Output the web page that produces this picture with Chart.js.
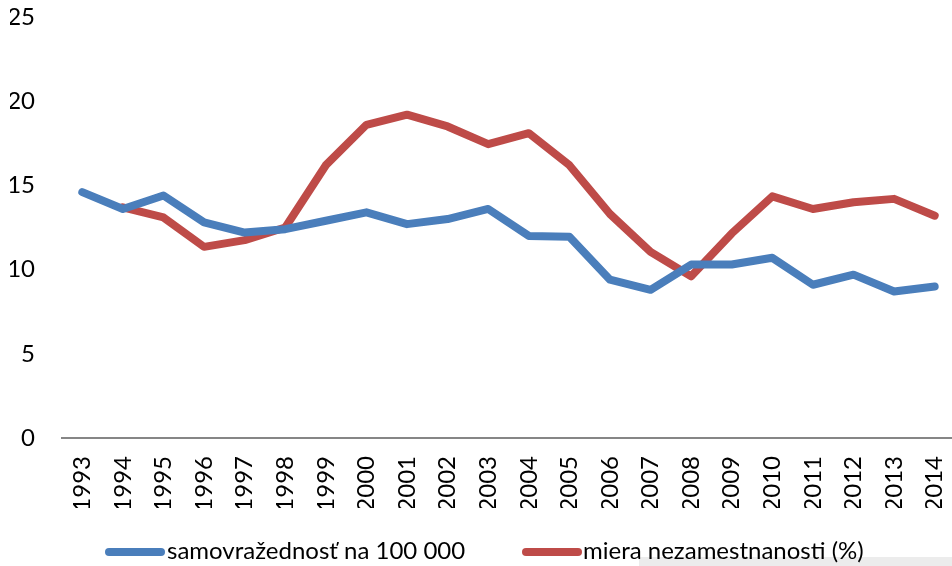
<!DOCTYPE html>
<html>
<head>
<meta charset="utf-8">
<script src="https://cdn.jsdelivr.net/npm/chart.js@4"></script>
<style>
  html, body { margin: 0; padding: 0; background: #fff; overflow: hidden; width: 952px; height: 566px; }
  #wrap { position: relative; width: 956px; height: 566px; }
  #strip { position: absolute; left: 639px; top: 557px; width: 320px; height: 10px; background: #ececec; z-index: 0; }
  #c { position: absolute; left: 0; top: 0; z-index: 1; }
</style>
</head>
<body>
<div id="wrap">
  <div id="strip"></div>
  <canvas id="c" width="956" height="566"></canvas>
</div>
<script>
const years = ['1993','1994','1995','1996','1997','1998','1999','2000','2001','2002','2003','2004','2005','2006','2007','2008','2009','2010','2011','2012','2013','2014'];
const suicideRate = [14.6, 13.6, 14.4, 12.8, 12.2, 12.4, 12.9, 13.4, 12.7, 13.0, 13.6, 12.0, 11.95, 9.4, 8.8, 10.3, 10.3, 10.7, 9.1, 9.7, 8.7, 9.0];
const unemployment = [null, 13.7, 13.1, 11.35, 11.75, 12.5, 16.2, 18.6, 19.2, 18.5, 17.45, 18.1, 16.2, 13.3, 11.05, 9.6, 12.15, 14.35, 13.6, 14.0, 14.2, 13.2];
const seriesNames = ['samovražednosť na 100 000', 'miera nezamestnanosti (%)'];
const yTicks = [0, 5, 10, 15, 20, 25];

const FONT = 'Lato, "Open Sans", sans-serif';

const legendPlugin = {
  id: 'customLegend',
  afterDraw(chart) {
    const ctx = chart.ctx;
    const items = [
      { x: 109, tx: 167, text: seriesNames[0], color: chart.data.datasets[0].borderColor },
      { x: 526, tx: 583, text: seriesNames[1], color: chart.data.datasets[1].borderColor }
    ];
    const y = 552;
    ctx.save();
    items.forEach(it => {
      ctx.strokeStyle = it.color;
      ctx.lineWidth = 8;
      ctx.lineCap = 'round';
      ctx.beginPath();
      ctx.moveTo(it.x, y);
      ctx.lineTo(it.x + 52, y);
      ctx.stroke();
      ctx.fillStyle = '#000';
      ctx.font = '24px ' + FONT;
      ctx.textBaseline = 'middle';
      ctx.textAlign = 'left';
      ctx.fillText(it.text, it.tx, y - 1);
    });
    ctx.restore();
  }
};

new Chart(document.getElementById('c'), {
  type: 'line',
  data: {
    labels: years,
    datasets: [
      { label: seriesNames[0], data: suicideRate, borderColor: '#4A7EBB', backgroundColor: '#4A7EBB', borderWidth: 8, pointRadius: 0, tension: 0, borderCapStyle: 'round', borderJoinStyle: 'round', spanGaps: false },
      { label: seriesNames[1], data: unemployment, borderColor: '#BE4B48', backgroundColor: '#BE4B48', borderWidth: 8, pointRadius: 0, tension: 0, borderCapStyle: 'round', borderJoinStyle: 'round', spanGaps: false }
    ]
  },
  options: {
    responsive: false,
    animation: false,
    layout: { padding: { left: 10, right: 1, top: 17, bottom: 58 } },
    plugins: { legend: { display: false }, tooltip: { enabled: false } },
    scales: {
      x: {
        offset: true,
        grid: { display: false, drawTicks: false },
        border: { display: true, color: '#868686', width: 2 },
        ticks: { minRotation: 90, maxRotation: 90, padding: 18, color: '#000', font: { family: FONT, size: 24 } },
        afterFit(scale) { scale.height = 70; scale.paddingLeft = 0; scale.paddingRight = 0; }
      },
      y: {
        min: 0, max: 25,
        afterBuildTicks(scale) { scale.ticks = yTicks.map(v => ({ value: v })); },
        grid: { display: false, drawTicks: false },
        border: { display: false },
        ticks: { padding: 27, color: '#000', font: { family: FONT, size: 24 } },
        afterFit(scale) { scale.width = 52; scale.paddingTop = 0; scale.paddingBottom = 0; }
      }
    }
  },
  plugins: [legendPlugin]
});
</script>
</body>
</html>
